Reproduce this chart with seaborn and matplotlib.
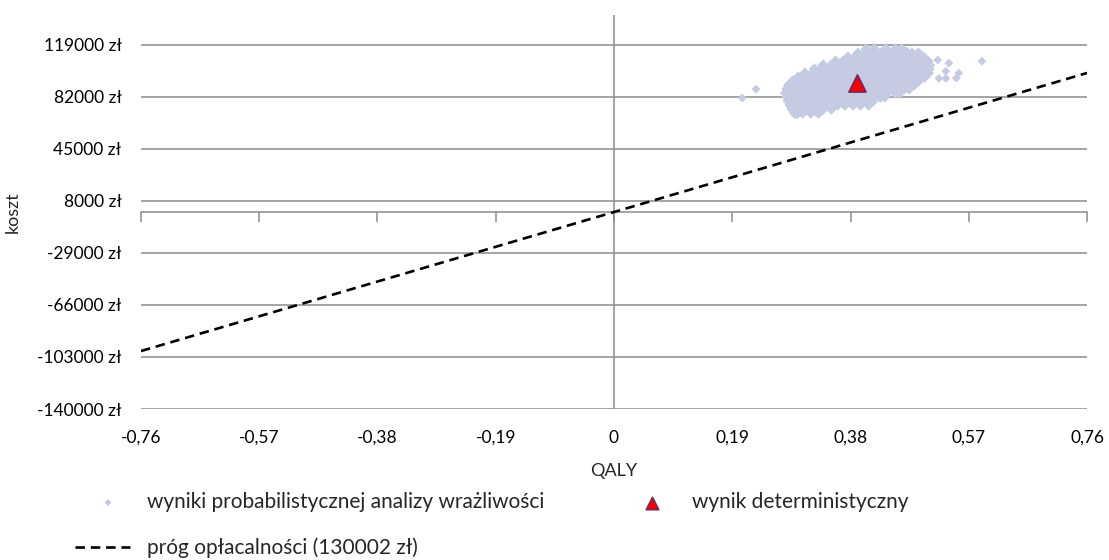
import numpy as np
import pandas as pd
import seaborn as sns
import matplotlib.pyplot as plt
from matplotlib.ticker import FixedLocator, FuncFormatter

# ---------------- data ----------------
x_ticks = [-0.76, -0.57, -0.38, -0.19, 0.0, 0.19, 0.38, 0.57, 0.76]
y_ticks = [-140000, -103000, -66000, -29000, 8000, 45000, 82000, 119000]

wtp_threshold = 130002          # zł per QALY
threshold_qaly = [-0.76, 0.76]

det_qaly = [0.39]
det_cost = [92000]

# PSA cloud, read row by row (cost level, QALY values on that row)
psa_row_cost = [115800, 112900, 110100, 107200, 104400, 101600, 98700, 95900,
                93000, 90200, 87400, 84500, 81700, 78800, 76000, 73200, 70300]
psa_row_qaly = [
    [.405, .418, .437, .452, .462],
    [.392, .404, .417, .429, .443, .455, .468, .479, .489],
    [.376, .388, .401, .413, .426, .438, .451, .463, .474, .486, .497],
    [.356, .368, .381, .393, .406, .419, .431, .444, .456, .468, .481, .493, .504],
    [.336, .349, .361, .374, .387, .399, .412, .425, .437, .450, .462, .475, .488, .500, .507],
    [.322, .334, .346, .359, .372, .384, .397, .410, .422, .435, .447, .460, .473, .485, .497, .506],
    [.307, .320, .332, .345, .357, .370, .383, .395, .408, .421, .433, .446, .458, .471, .484, .496, .505],
    [.296, .309, .321, .334, .347, .359, .372, .385, .397, .410, .422, .435, .448, .460, .473, .486, .499],
    [.287, .300, .312, .325, .337, .350, .363, .375, .388, .401, .413, .426, .439, .451, .464, .476, .489],
    [.281, .293, .306, .318, .331, .344, .356, .369, .381, .394, .407, .419, .432, .445, .457, .470, .482],
    [.278, .290, .303, .315, .328, .340, .353, .366, .378, .391, .404, .416, .429, .442, .454, .466, .474],
    [.276, .288, .300, .313, .326, .338, .351, .363, .376, .389, .401, .414, .427, .439, .452, .459],
    [.278, .290, .302, .315, .327, .340, .352, .365, .378, .390, .403, .416, .428, .435],
    [.280, .292, .305, .317, .330, .342, .355, .368, .380, .393, .405, .416],
    [.283, .296, .308, .321, .334, .346, .359, .371, .384, .396, .409],
    [.286, .299, .311, .324, .336, .349],
    [.290, .303, .316, .329],
]
# scattered outliers around the cloud
psa_out_qaly = [0.206, 0.228, 0.294, 0.326, 0.334, 0.522, 0.533, 0.538, 0.533,
                0.554, 0.550, 0.591, 0.520, 0.478, 0.470]
psa_out_cost = [81000, 87400, 68900, 70300, 72400, 95000, 95000, 105800, 100100,
                98700, 95200, 107200, 108000, 113000, 114500]

lbl_psa = "wyniki probabilistycznej analizy wrażliwości"
lbl_det = "wynik deterministyczny"
lbl_thr = "próg opłacalności (130002 zł)"

# ---------------- build tables ----------------
psa_q, psa_c = [], []
for c, qs in zip(psa_row_cost, psa_row_qaly):
    psa_q += qs
    psa_c += [c] * len(qs)
psa = pd.DataFrame({"QALY": psa_q, "koszt": psa_c})
psa_out = pd.DataFrame({"QALY": psa_out_qaly, "koszt": psa_out_cost})
det = pd.DataFrame({"QALY": det_qaly, "koszt": det_cost})
thr = pd.DataFrame({"QALY": threshold_qaly,
                    "koszt": [wtp_threshold * q for q in threshold_qaly]})

# ---------------- style ----------------
sns.set_theme(style="white")
plt.rcParams["font.family"] = ["Lato", "DejaVu Sans"]
FS = 12.5      # tick labels
FS_LAB = 13    # axis titles
FS_LEG = 15    # legend
GRAY = "#8c8c8c"
PSA_COLOR = "#C4CBE3"

fig = plt.figure(figsize=(11.09, 5.6), dpi=100)
ax = fig.add_axes([0.1271, 0.2696, 0.8531, 0.7036])

sns.scatterplot(data=psa, x="QALY", y="koszt", marker="D", s=34, color=PSA_COLOR,
                edgecolor="none", linewidth=0, ax=ax, label=lbl_psa, zorder=3)
sns.scatterplot(data=psa_out, x="QALY", y="koszt", marker="D", s=20, color=PSA_COLOR,
                edgecolor="none", linewidth=0, ax=ax, zorder=3, legend=False)
sns.lineplot(data=thr, x="QALY", y="koszt", color="black", lw=1.9, ax=ax,
             label=lbl_thr, zorder=4, dashes=False)
ax.lines[-1].set_dashes((3.6, 2.2))
sns.scatterplot(data=det, x="QALY", y="koszt", marker="^", s=150, color="#FF0000",
                edgecolor="#7A2A5A", linewidth=1.3, ax=ax, label=lbl_det, zorder=5)

handles, labels = ax.get_legend_handles_labels()
hmap = dict(zip(labels, handles))
ax.get_legend().remove()

ax.set_xlim(-0.76, 0.76)
ax.set_ylim(-140000, 140000)

# y axis
ax.yaxis.set_major_locator(FixedLocator(y_ticks))
ax.yaxis.set_major_formatter(FuncFormatter(lambda v, p: f"{int(round(v))} zł"))
ax.tick_params(axis="y", length=0, pad=14, labelsize=FS, labelcolor="black")
ax.grid(axis="y", color=GRAY, lw=1.1)
ax.grid(axis="x", visible=False)
ax.axvline(0, color=GRAY, lw=1.1, zorder=2)

# x axis: spine at y=0 with tick marks, labels on the bottom
for s in ["left", "right", "top"]:
    ax.spines[s].set_visible(False)
ax.spines["bottom"].set_position(("data", 0))
ax.spines["bottom"].set_color(GRAY)
ax.spines["bottom"].set_linewidth(1.1)
ax.xaxis.set_major_locator(FixedLocator(x_ticks))
ax.tick_params(axis="x", direction="out", length=7, width=1.1, color=GRAY,
               labelbottom=False, bottom=True)


def fmt_x(v, p):
    if abs(v) < 1e-9:
        return "0"
    return f"{v:.2f}".replace(".", ",")


sec = ax.secondary_xaxis("bottom")
sec.xaxis.set_major_locator(FixedLocator(x_ticks))
sec.xaxis.set_major_formatter(FuncFormatter(fmt_x))
sec.tick_params(length=0, pad=15, labelsize=FS, labelcolor="black")
sec.spines["bottom"].set_visible(False)

ax.set_xlabel("QALY", fontsize=FS_LAB)
ax.xaxis.set_label_coords(0.5, -0.138)
ax.set_ylabel("koszt", fontsize=FS_LAB)
ax.yaxis.set_label_coords(-0.127, 0.5)

# legends (figure coordinates)
fpx = FS_LEG * 100 / 72.0
leg1 = fig.legend([hmap[lbl_psa]], [lbl_psa], loc="center left",
                  bbox_to_anchor=((108 - fpx * 0.5) / 1109, 1 - 502 / 560),
                  frameon=False, fontsize=FS_LEG, handlelength=1.0,
                  handletextpad=(39 - fpx * 0.5) / fpx, borderpad=0,
                  borderaxespad=0, markerscale=0.6)
leg2 = fig.legend([hmap[lbl_det]], [lbl_det], loc="center left",
                  bbox_to_anchor=((652 - fpx * 0.5) / 1109, 1 - 502 / 560),
                  frameon=False, fontsize=FS_LEG, handlelength=1.0,
                  handletextpad=(40 - fpx * 0.5) / fpx, borderpad=0,
                  borderaxespad=0, markerscale=0.72)
leg3 = fig.legend([hmap[lbl_thr]], [lbl_thr], loc="center left",
                  bbox_to_anchor=(75 / 1109, 1 - 548 / 560),
                  frameon=False, fontsize=FS_LEG, handlelength=55 / fpx,
                  handletextpad=17 / fpx, borderpad=0, borderaxespad=0)

fig.savefig("out.png", dpi=100)
